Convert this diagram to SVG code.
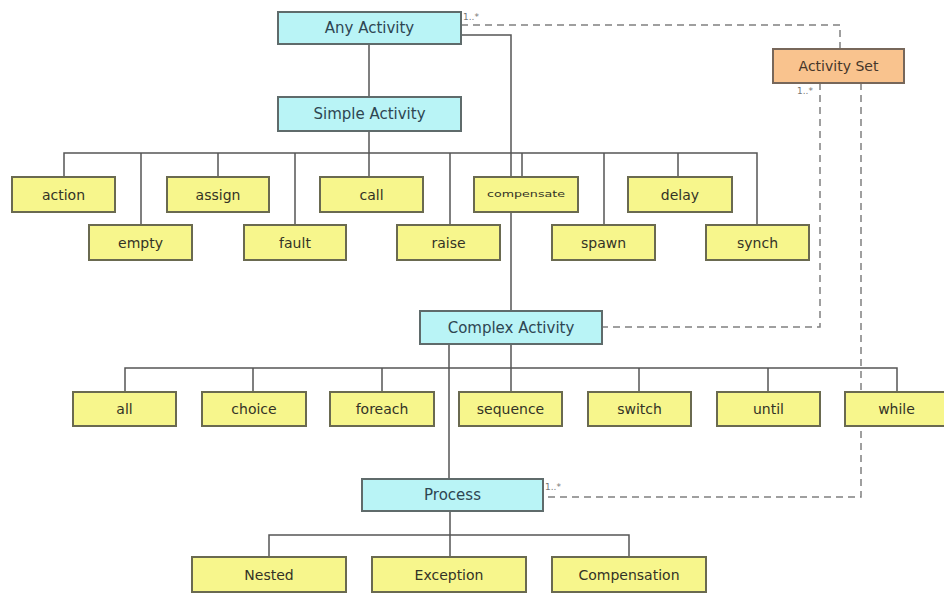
<svg xmlns="http://www.w3.org/2000/svg" width="944" height="594" viewBox="0 0 944 594">
<style>
  .bg { fill: #ffffff; }
  .solid { fill: none; stroke: #555; stroke-width: 1.5; }
  .dash { fill: none; stroke: #808080; stroke-width: 1.5; stroke-dasharray: 7 5; }
  .cyan rect { fill: #b9f4f6; stroke: #5f6b6b; stroke-width: 2; }
  .yel rect { fill: #f7f68c; stroke: #6a6a50; stroke-width: 2; }
  .org rect { fill: #f9c38e; stroke: #77675a; stroke-width: 2; }
  text { font-family: "DejaVu Sans", Verdana, sans-serif; text-anchor: middle; dominant-baseline: central; }
  .cyan text { font-size: 15px; fill: #2e4652; }
  .yel text { font-size: 14px; fill: #333326; }
  .org text { font-size: 14px; fill: #45362a; }
  .mult { font-size: 9px; fill: #777; text-anchor: start; dominant-baseline: auto; }
</style>
<rect class="bg" x="0" y="0" width="944" height="594"/>

<g id="connectors">
  <path class="solid" d="M369,44 V97"/>
  <path class="solid" d="M461,35 H511 V311"/>
  <path class="solid" d="M369,131 V177"/>
  <path class="solid" d="M64,177 V153 H757 V225"/>
  <path class="solid" d="M141,153 V225 M218,153 V177 M295,153 V225 M450,153 V225 M522,153 V177 M604,153 V225 M678,153 V177"/>
  <path class="solid" d="M511,344 V392"/>
  <path class="solid" d="M125,392 V368 H897 V392"/>
  <path class="solid" d="M253,368 V392 M382,368 V392 M639,368 V392 M768,368 V392"/>
  <path class="solid" d="M449,344 V479"/>
  <path class="solid" d="M450,511 V557"/>
  <path class="solid" d="M269,557 V535 H629 V557"/>
  <path class="dash" d="M461,25 H840 V49"/>
  <path class="dash" d="M820,83 V327 H602"/>
  <path class="dash" d="M861,83 V497 H543"/>
  <text class="mult" x="463" y="20">1..*</text>
  <text class="mult" x="797" y="94">1..*</text>
  <text class="mult" x="545" y="490">1..*</text>
</g>

<g id="any-activity" class="cyan"><rect x="278" y="12" width="183" height="32"/><text x="369.5" y="28">Any Activity</text></g>
<g id="activity-set" class="org"><rect x="773" y="49" width="131" height="34"/><text x="838.5" y="66">Activity Set</text></g>
<g id="simple-activity" class="cyan"><rect x="278" y="97" width="183" height="34"/><text x="369.5" y="114">Simple Activity</text></g>

<g id="action" class="yel"><rect x="12" y="177" width="103" height="35"/><text x="63.5" y="194.5">action</text></g>
<g id="assign" class="yel"><rect x="167" y="177" width="102" height="35"/><text x="218" y="194.5">assign</text></g>
<g id="call" class="yel"><rect x="320" y="177" width="103" height="35"/><text x="371.5" y="194.5">call</text></g>
<g id="compensate" class="yel"><rect x="474" y="177" width="104" height="35"/><text x="526" y="194.5" style="font-size:8px" textLength="78" lengthAdjust="spacingAndGlyphs">compensate</text></g>
<g id="delay" class="yel"><rect x="628" y="177" width="104" height="35"/><text x="680" y="194.5">delay</text></g>

<g id="empty" class="yel"><rect x="89" y="225" width="103" height="35"/><text x="140.5" y="242.5">empty</text></g>
<g id="fault" class="yel"><rect x="244" y="225" width="102" height="35"/><text x="295" y="242.5">fault</text></g>
<g id="raise" class="yel"><rect x="397" y="225" width="103" height="35"/><text x="448.5" y="242.5">raise</text></g>
<g id="spawn" class="yel"><rect x="552" y="225" width="103" height="35"/><text x="603.5" y="242.5">spawn</text></g>
<g id="synch" class="yel"><rect x="706" y="225" width="103" height="35"/><text x="757.5" y="242.5">synch</text></g>

<g id="complex-activity" class="cyan"><rect x="420" y="311" width="182" height="33"/><text x="511" y="327.5">Complex Activity</text></g>

<g id="all" class="yel"><rect x="73" y="392" width="103" height="34"/><text x="124.5" y="409">all</text></g>
<g id="choice" class="yel"><rect x="202" y="392" width="104" height="34"/><text x="254" y="409">choice</text></g>
<g id="foreach" class="yel"><rect x="330" y="392" width="104" height="34"/><text x="382" y="409">foreach</text></g>
<g id="sequence" class="yel"><rect x="459" y="392" width="103" height="34"/><text x="510.5" y="409">sequence</text></g>
<g id="switch" class="yel"><rect x="588" y="392" width="103" height="34"/><text x="639.5" y="409">switch</text></g>
<g id="until" class="yel"><rect x="717" y="392" width="103" height="34"/><text x="768.5" y="409">until</text></g>
<g id="while" class="yel"><rect x="845" y="392" width="103" height="34"/><text x="896.5" y="409">while</text></g>

<g id="process" class="cyan"><rect x="362" y="479" width="181" height="32"/><text x="452.5" y="495">Process</text></g>

<g id="nested" class="yel"><rect x="192" y="557" width="154" height="35"/><text x="269" y="574.5">Nested</text></g>
<g id="exception" class="yel"><rect x="372" y="557" width="154" height="35"/><text x="449" y="574.5">Exception</text></g>
<g id="compensation" class="yel"><rect x="552" y="557" width="154" height="35"/><text x="629" y="574.5">Compensation</text></g>
</svg>
